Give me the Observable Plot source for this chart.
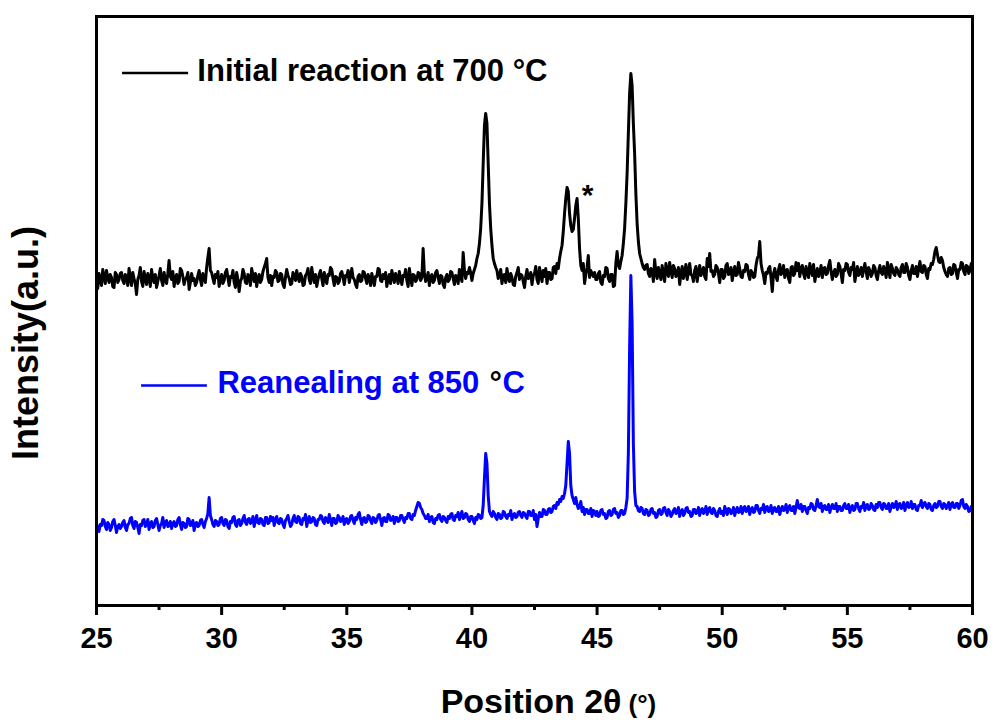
<!DOCTYPE html>
<html><head><meta charset="utf-8">
<script src="https://cdn.jsdelivr.net/npm/d3@7"></script>
<script src="https://cdn.jsdelivr.net/npm/@observablehq/plot@0.6"></script>
<style>body{margin:0;background:#fff} #chart{width:992px;height:720px}</style>
</head><body><div id="chart"></div>
<script>
// 2θ sampling of both patterns (25° .. 60°)
const xStart = 25, xStep = 0.05;

// Initial reaction at 700 °C (arbitrary intensity, offset trace), one row per degree
const initial700 = [
322,315,330,324,318,334,327,320,333,326,321,329,326,317,316,331,329,321,324,330,
331,323,320,329,327,318,335,326,318,331,325,320,309,324,328,336,322,317,332,325,
319,330,326,317,334,325,321,329,316,322,328,335,323,318,331,324,320,330,343,327,
324,332,317,326,329,320,322,335,333,327,319,324,326,331,314,321,330,323,325,318,
321,328,333,324,318,330,327,321,336,346,355,333,331,325,320,329,326,332,317,323,
329,320,323,331,334,326,318,327,326,333,321,316,331,324,312,322,325,334,330,321,
320,329,327,318,335,328,322,330,317,325,329,321,324,332,336,340,345,326,321,328,
318,327,326,333,331,322,323,330,329,319,316,326,334,328,325,319,320,331,328,323,
333,326,322,330,327,318,319,328,330,335,324,320,336,327,321,329,317,324,329,333,
325,318,331,324,320,329,328,336,334,325,318,327,326,320,322,330,332,326,319,328,
327,333,321,328,335,326,324,319,316,327,329,322,323,332,331,325,320,329,326,318,
330,324,318,327,327,335,334,323,322,329,325,331,317,324,329,320,333,327,321,330,
326,320,332,325,319,328,327,334,323,317,335,326,318,329,328,322,324,331,330,323,
326,355,330,322,325,331,318,327,329,321,323,331,333,326,320,328,327,319,316,326,
329,322,324,332,331,325,319,328,327,320,334,327,322,351,333,325,331,330,336,331,
323,330,334,338,345,350,360,375,400,440,478,490,480,440,400,375,358,345,340,336,
333,325,327,334,320,328,329,321,335,326,322,330,326,319,318,327,331,336,324,329,
328,322,316,327,334,325,326,331,319,328,330,337,324,320,336,329,322,333,327,335,
320,331,331,324,325,336,337,330,340,335,345,352,358,372,390,405,416,412,390,378,
372,374,385,398,405,385,355,338,333,340,320,329,336,348,326,333,330,327,331,324,
324,330,332,321,319,328,327,336,335,325,322,329,329,317,318,340,352,338,335,342,
348,360,375,400,430,470,510,530,518,480,450,410,380,362,350,345,340,336,334,338,
339,330,327,335,333,322,344,331,325,336,330,324,338,329,322,340,332,327,341,333,
326,338,335,327,329,336,319,330,337,325,331,339,324,332,340,329,328,322,333,337,
322,331,338,328,331,336,327,324,345,337,350,332,333,327,329,338,336,330,321,334,
334,325,327,338,340,329,330,336,323,331,337,328,329,341,335,327,326,333,332,339,
338,329,324,333,331,326,327,338,345,348,362,340,333,328,320,331,330,335,337,326,
312,330,335,327,323,334,339,329,331,338,326,333,334,325,321,336,337,328,330,341,
333,340,327,335,338,330,325,337,332,326,340,334,328,339,322,330,335,327,331,338,
326,335,336,329,330,338,343,332,324,331,334,327,329,340,337,330,321,334,333,340,
339,331,328,336,334,341,322,330,337,328,331,336,327,334,340,332,325,336,333,327,
330,338,336,328,324,333,338,331,329,337,333,326,341,334,326,339,335,330,328,336,
334,329,327,336,339,331,331,340,336,328,324,333,338,330,330,337,327,335,342,332,
331,338,337,329,325,335,334,340,339,344,352,356,349,342,341,346,343,336,332,329,
327,335,336,329,330,339,338,331,325,334,334,341,340,332,329,338,337,330,333,340,
336];

// Reanealing at 850 °C, one row per degree
const reanneal850 = [
80,74,72,79,78,84,83,77,74,81,79,73,76,82,84,78,71,77,79,75,
77,81,83,76,73,79,80,85,86,78,75,82,81,76,70,79,78,83,84,77,
79,84,74,80,82,76,77,83,85,79,73,78,80,86,76,81,83,77,78,82,
75,80,82,77,78,84,86,79,74,81,80,76,77,85,84,78,79,83,73,80,
81,77,78,83,84,79,76,82,85,90,106,88,84,79,77,83,82,78,79,85,
86,80,78,84,83,77,75,82,81,86,87,79,77,83,84,78,80,85,88,81,
79,84,85,80,82,87,77,83,88,81,80,85,84,79,78,86,86,80,81,87,
83,86,78,84,87,81,80,85,84,79,76,83,85,88,82,77,79,85,88,82,
81,87,86,80,79,85,84,89,77,83,87,81,82,86,85,79,78,84,84,88,
87,82,80,86,84,81,89,84,78,85,85,80,81,88,86,82,83,87,79,84,
85,80,82,87,88,83,80,86,84,89,91,84,79,85,86,81,82,88,87,83,
80,86,85,81,83,88,89,84,78,85,86,82,82,89,88,83,84,87,80,86,
86,82,83,88,88,84,81,86,85,90,90,85,84,89,88,93,97,101,100,96,
94,90,88,85,85,89,82,86,87,81,80,85,84,88,89,84,82,87,86,83,
81,87,85,89,90,84,83,88,87,91,84,88,92,85,86,90,89,84,82,87,
87,83,80,86,84,89,88,85,86,98,125,150,140,108,92,89,87,92,90,86,
84,90,89,85,86,92,91,87,85,89,88,93,84,88,90,86,87,91,92,88,
86,91,90,87,85,92,92,88,88,93,84,89,77,85,91,87,87,94,93,89,
89,94,95,91,92,97,98,95,101,99,104,102,107,105,110,118,140,162,150,118,
108,104,100,106,99,95,97,102,92,96,89,94,94,90,90,95,87,93,92,88,
92,87,88,93,94,89,90,85,86,92,93,88,89,94,95,90,91,86,88,93,
93,89,90,96,105,150,255,328,280,160,112,98,97,93,92,96,95,90,89,94,
93,88,89,94,95,90,91,86,87,93,94,89,90,95,96,91,88,94,92,87,
89,93,95,90,91,96,87,92,94,88,90,95,96,91,92,87,88,94,94,90,
91,96,88,93,95,90,92,97,89,94,96,91,90,95,93,88,87,92,95,90,
92,88,97,93,89,95,94,90,91,96,88,93,96,91,92,97,90,95,97,92,
93,97,89,94,96,91,92,98,98,93,90,95,94,99,91,96,97,92,93,98,
90,95,96,92,92,97,89,94,97,93,94,99,91,96,98,93,93,97,90,96,
103,96,95,99,92,97,97,93,90,96,95,100,99,94,93,98,104,97,96,100,
92,97,98,94,94,99,91,96,99,95,95,100,92,97,97,93,93,98,100,95,
95,99,91,96,98,93,94,100,100,95,92,97,96,101,93,98,99,94,95,100,
98,94,93,99,96,101,101,96,94,100,99,95,95,100,92,97,100,96,97,102,
94,99,100,95,96,101,93,98,101,96,97,102,95,99,99,94,93,98,98,103,
96,100,101,97,95,100,99,94,93,98,100,96,97,102,102,97,95,100,99,95,
97,101,94,99,101,96,96,100,100,95,98,103,104,97,95,99,97,92,93,97,
95];

const seriesNames = ["Initial reaction at 700 °C", "Reanealing at 850 °C"];
const seriesColors = ["#000000", "#0000ff"];
const xTicks = [25, 30, 35, 40, 45, 50, 55, 60];
const xMinorTicks = [27.5, 32.5, 37.5, 42.5, 47.5, 52.5, 57.5];
const xLabel = "Position 2θ";
const xLabelUnit = "(°)";
const yLabel = "Intensity(a.u.)";
const peakMark = "*";

const toRows = (vals) => vals.map((v, i) => ({x: +(xStart + i * xStep).toFixed(2), y: v}));
const rows700 = toRows(initial700);
const rows850 = toRows(reanneal850);

// legend layout (in plot coordinates)
const leg = [
  {x1: 26.04, x2: 28.68, y: 530.5, tx: 29.03, ty: 532},
  {x1: 26.80, x2: 29.43, y: 218, tx: 29.83, ty: 220}
];
const blueName = seriesNames[1];
const degIdx = blueName.indexOf("°");
const bluePre = blueName.slice(0, degIdx).trim();
const blueDeg = "°";
const bluePost = blueName.slice(degIdx + 1);

const font = "'Liberation Sans', Arial, Helvetica, sans-serif";
const B = "bold";

const chart = Plot.plot({
  width: 992,
  height: 720,
  marginLeft: 96,
  marginRight: 20,
  marginTop: 16,
  marginBottom: 115,
  style: {fontFamily: font, background: "#fff", color: "#000"},
  x: {domain: [25, 60], label: null},
  y: {domain: [-2, 587], axis: null, label: null},
  marks: [
    Plot.line(rows700, {x: "x", y: "y", stroke: seriesColors[0], strokeWidth: 3, strokeLinejoin: "round"}),
    Plot.line(rows850, {x: "x", y: "y", stroke: seriesColors[1], strokeWidth: 3, strokeLinejoin: "round"}),
    Plot.frame({stroke: "#000", strokeWidth: 3}),
    Plot.axisX(xTicks, {tickSize: 10, tickPadding: 12, strokeWidth: 3, fontSize: 29, fontWeight: B, label: null}),
    Plot.axisX(xMinorTicks, {tickSize: 5, strokeWidth: 3, tickFormat: () => "", label: null}),
    // legend
    Plot.ruleY([leg[0]], {x1: "x1", x2: "x2", y: "y", stroke: seriesColors[0], strokeWidth: 2.5}),
    Plot.ruleY([leg[1]], {x1: "x1", x2: "x2", y: "y", stroke: seriesColors[1], strokeWidth: 2.5}),
    Plot.text([seriesNames[0]], {x: () => leg[0].tx, y: () => leg[0].ty, text: d => d, textAnchor: "start", lineAnchor: "middle", fontSize: 31, fontWeight: B, fill: seriesColors[0]}),
    Plot.text([bluePre], {x: () => leg[1].tx, y: () => leg[1].ty, text: d => d, textAnchor: "start", lineAnchor: "middle", fontSize: 31, fontWeight: B, fill: seriesColors[1]}),
    Plot.text([blueDeg], {x: () => 40.70, y: () => leg[1].ty, text: d => d, textAnchor: "start", lineAnchor: "middle", fontSize: 31, fontWeight: B, fill: "#000"}),
    Plot.text([bluePost], {x: () => 41.22, y: () => leg[1].ty, text: d => d, textAnchor: "start", lineAnchor: "middle", fontSize: 31, fontWeight: B, fill: seriesColors[1]}),
    // impurity peak marker
    Plot.text([peakMark], {x: () => 44.62, y: () => 399, text: d => d, textAnchor: "middle", lineAnchor: "bottom", fontSize: 30, fontWeight: B, fill: "#000"}),
    // axis labels
    Plot.text([yLabel], {frameAnchor: "left", rotate: -90, dx: -70, dy: 32, text: d => d, textAnchor: "middle", lineAnchor: "middle", fontSize: 36, fontWeight: B, fill: "#000"}),
    Plot.text([xLabel], {frameAnchor: "bottom", dx: 87, dy: 107, text: d => d, textAnchor: "end", lineAnchor: "bottom", fontSize: 34, fontWeight: B, fill: "#000"}),
    Plot.text([xLabelUnit], {frameAnchor: "bottom", dx: 94, dy: 107, text: d => d, textAnchor: "start", lineAnchor: "bottom", fontSize: 26, fontWeight: B, fill: "#000"})
  ]
});
document.getElementById("chart").appendChild(chart);
</script>
</body></html>
